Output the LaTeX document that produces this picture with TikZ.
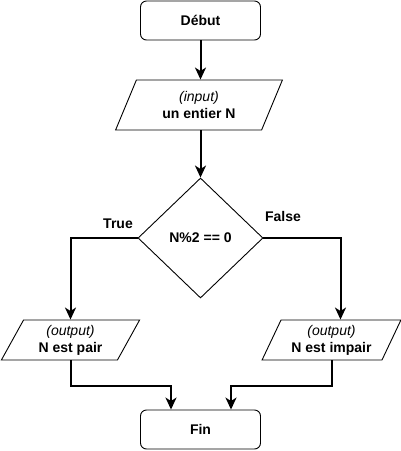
\documentclass[tikz,border=0pt]{standalone}
\usepackage{fontspec}
\setmainfont{Liberation Sans}
\usetikzlibrary{shapes.geometric,arrows.meta}
\begin{document}
\begin{tikzpicture}[x=1pt,y=-1pt,
  every node/.style={font=\fontsize{14}{17}\selectfont, align=center, inner sep=0pt},
  term/.style={draw, line width=0.9pt, rounded corners=6pt, minimum width=120pt, minimum height=39pt},
  io/.style={draw, line width=0.9pt, trapezium, trapezium stretches=true, trapezium left angle=#1, trapezium right angle=180-#1},
  dec/.style={draw, line width=0.9pt, diamond, minimum width=125pt, minimum height=120pt},
  conn/.style={line width=2pt, -{Stealth[length=12pt,width=11pt,inset=3.5pt]}},
  lbl/.style={font=\fontsize{14}{17}\selectfont\bfseries}
]
\useasboundingbox (0,0) rectangle (401,451);
\node[term] (debut) at (200.5,20.5) {\textbf{Début}};
\node[io=66, minimum width=168pt, minimum height=50pt] (in) at (199,105) {\textit{(input)}\\\textbf{un entier N}};
\node[dec] (dia) at (200.5,238) {\textbf{N\%2 == 0}};
\node[io=63.4, minimum width=139pt, minimum height=40pt] (pair) at (70.5,340) {\textit{(output)}\\\textbf{N est pair}};
\node[io=63.4, minimum width=139pt, minimum height=40pt] (impair) at (331.5,340) {\textit{(output)}\\\textbf{N est impair}};
\node[term] (fin) at (200.5,429.5) {\textbf{Fin}};
\node[lbl] (true) at (118,224) {True};
\node[lbl] (false) at (283,216) {False};
\coordinate (jl) at (171,386);
\coordinate (jr) at (231,386);
\draw[conn] (debut.south) -- (debut.south |- in.north);
\draw[conn] (debut.south |- in.south) -- (dia.north);
\draw[conn] (dia.west) -| (pair.center |- pair.north);
\draw[conn] (dia.east) -| ([xshift=9pt]impair.center |- impair.north);
\draw[conn] (pair.center |- pair.south) |- (jl) -- (jl |- fin.north);
\draw[conn] (impair.center |- impair.south) |- (jr) -- (jr |- fin.north);
\end{tikzpicture}
\end{document}
